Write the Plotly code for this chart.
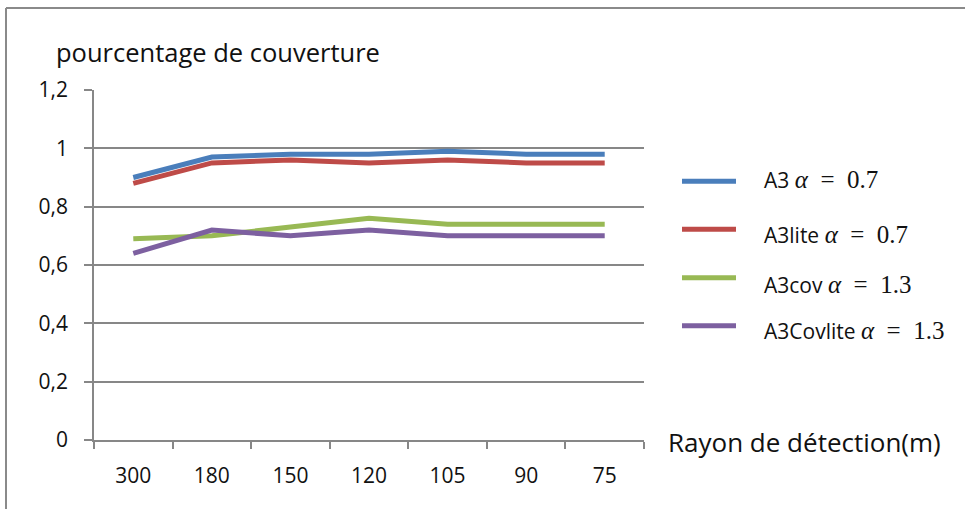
import plotly.graph_objects as go

# Detection radius (m) and coverage ratio per algorithm
rayons = ["300", "180", "150", "120", "105", "90", "75"]
a3 = [0.90, 0.97, 0.98, 0.98, 0.99, 0.98, 0.98]
a3lite = [0.88, 0.95, 0.96, 0.95, 0.96, 0.95, 0.95]
a3cov = [0.69, 0.70, 0.73, 0.76, 0.74, 0.74, 0.74]
a3covlite = [0.64, 0.72, 0.70, 0.72, 0.70, 0.70, 0.70]

names_sans = ["A3", "A3lite", "A3cov", "A3Covlite"]
alphas = ["0.7", "0.7", "1.3", "1.3"]
series = [a3, a3lite, a3cov, a3covlite]
colors = ["#4A7EBB", "#BE4B48", "#98B954", "#7D60A0"]

W, H = 965, 509
L, R, T, B = 94, 321, 90, 69
PW, PH = W - L - R, H - T - B


def px_x(p):
    return (p - L) / PW


def px_y(p):
    return (H - B - p) / PH


SANS = "Open Sans"
GRID = "#878787"

fig = go.Figure()
for vals, col, nm in zip(series, colors, names_sans):
    fig.add_trace(go.Scatter(
        x=rayons, y=vals, mode="lines", name=nm,
        line=dict(color=col, width=5), showlegend=False,
    ))

shapes = []
annotations = []

# outer chart frame (top and left edges)
shapes.append(dict(type="line", xref="paper", yref="paper",
                   x0=px_x(6), x1=px_x(W + 5), y0=px_y(8), y1=px_y(8),
                   line=dict(color="#8a8a8a", width=2)))
shapes.append(dict(type="line", xref="paper", yref="paper",
                   x0=px_x(6), x1=px_x(6), y0=px_y(8), y1=px_y(H + 5),
                   line=dict(color="#8a8a8a", width=2)))

# legend keys and labels (name in sans, parameter in math serif)
key_y = [181.3, 229.3, 277.7, 325.7]
txt_y = [180.0, 235.0, 285.0, 330.5]
for i in range(4):
    shapes.append(dict(type="line", xref="paper", yref="paper",
                       x0=px_x(682), x1=px_x(736), y0=px_y(key_y[i]), y1=px_y(key_y[i]),
                       line=dict(color=colors[i], width=5)))
    label = (f"{names_sans[i]} "
             f"<span style=\"font-family:Liberation Serif;font-size:25px\">"
             f"<i>\u03b1</i>\u2002=\u2002{alphas[i]}</span>")
    annotations.append(dict(xref="paper", yref="paper", x=px_x(762), y=px_y(txt_y[i]),
                            xanchor="left", yanchor="middle", showarrow=False,
                            text=label, font=dict(family=SANS, size=21, color="#111")))

annotations.append(dict(xref="paper", yref="paper", x=px_x(54), y=px_y(52),
                        xanchor="left", yanchor="middle", showarrow=False,
                        text="pourcentage de couverture",
                        font=dict(family=SANS, size=25.5, color="#111")))
annotations.append(dict(xref="paper", yref="paper", x=px_x(666), y=px_y(442),
                        xanchor="left", yanchor="middle", showarrow=False,
                        text="Rayon de détection(m)",
                        font=dict(family=SANS, size=26, color="#111")))

fig.update_layout(
    width=W, height=H,
    margin=dict(l=L, r=R, t=T, b=B),
    paper_bgcolor="white", plot_bgcolor="white",
    separators=", ",
    shapes=shapes, annotations=annotations,
    font=dict(family=SANS, color="#111"),
)
fig.update_xaxes(
    type="category", range=[-0.5, 6.5],
    showline=True, linecolor=GRID, linewidth=1.5,
    ticks="outside", tickson="boundaries", ticklen=7, tickcolor=GRID, tickwidth=1.5,
    showgrid=False, zeroline=False,
    tickfont=dict(family=SANS, size=21, color="#111"),
    ticklabelstandoff=16,
)
fig.update_yaxes(
    range=[0, 1.2], dtick=0.2, tick0=0,
    showline=True, linecolor=GRID, linewidth=1.5,
    ticks="outside", ticklen=8, tickcolor=GRID, tickwidth=1.5,
    showgrid=True, gridcolor=GRID, gridwidth=1.5, zeroline=False,
    tickfont=dict(family=SANS, size=21, color="#111"),
    ticklabelstandoff=12,
)

fig.write_html("out.html")
